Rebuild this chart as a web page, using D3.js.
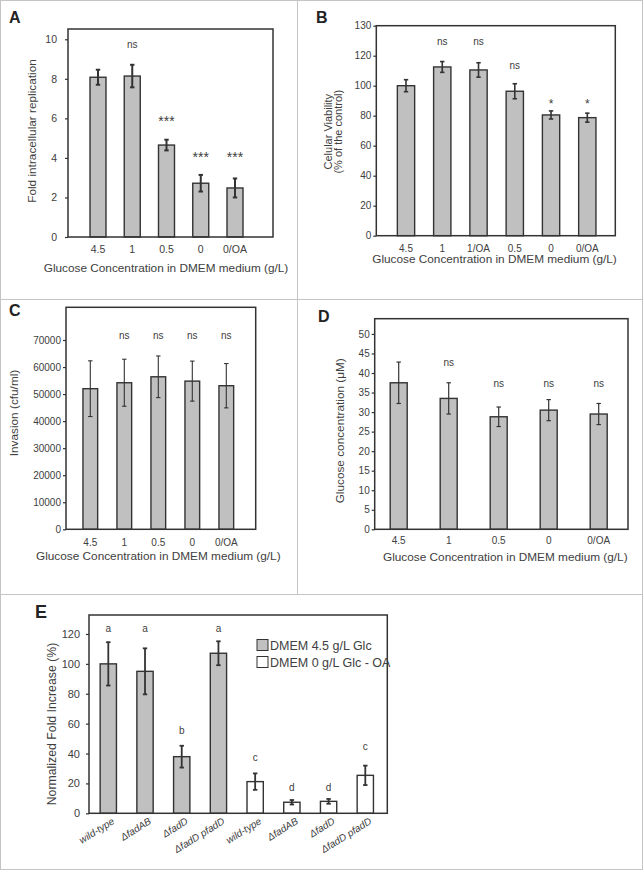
<!DOCTYPE html>
<html><head><meta charset="utf-8">
<script src="https://cdn.jsdelivr.net/npm/d3@7"></script>
<style>
body{margin:0;background:#fff;}
text{font-family:"Liberation Sans",Arial,sans-serif;fill:#404040;}
</style></head>
<body>
<svg id="fig" width="644" height="871"></svg>
<script>
// ---------- DATA ----------
const catsA = ["4.5","1","0.5","0","0/OA"];
const valsA = [8.08, 8.14, 4.65, 2.72, 2.48];
const errA  = [0.38, 0.57, 0.27, 0.42, 0.48];
const annA  = ["", "ns", "***", "***", "***"];
const annYA = [null, 9.58, 5.61, 3.79, 3.79];
const ticksA = [0, 2, 4, 6, 8, 10];

const catsB = ["4.5","1","1/OA","0.5","0","0/OA"];
const valsB = [100, 112.5, 110.5, 96.3, 80.5, 78.7];
const errB  = [4.0, 3.6, 4.8, 5.0, 2.7, 3.0];
const annB  = ["", "ns", "ns", "ns", "*", "*"];
const annYB = [null, 126.9, 126.9, 110.9, 85.4, 85.4];
const ticksB = [0, 20, 40, 60, 80, 100, 120, 140];
const tickLabelsB = ["0","20","40","60","80","100","120","130"];

const catsC = ["4.5","1","0.5","0","0/OA"];
const valsC = [52000, 54200, 56400, 54800, 53100];
const errC  = [10300, 8700, 7700, 7400, 8200];
const annC  = ["", "ns", "ns", "ns", "ns"];
const annYC = [null, 70300, 70300, 70300, 70300];
const ticksC = [0, 10000, 20000, 30000, 40000, 50000, 60000, 70000];

const catsD = ["4.5","1","0.5","0","0/OA"];
const valsD = [37.5, 33.5, 28.8, 30.5, 29.5];
const errD  = [5.3, 4.0, 2.5, 2.7, 2.7];
const annD  = ["", "ns", "ns", "ns", "ns"];
const annYD = [null, 41.8, 36.5, 36.5, 36.5];
const ticksD = [0, 5, 10, 15, 20, 25, 30, 35, 40, 45, 50];

const catsE = ["wild-type","\u0394fadAB","\u0394fadD","\u0394fadD pfadD","wild-type","\u0394fadAB","\u0394fadD","\u0394fadD pfadD"];
const groupE = [0,0,0,0,1,1,1,1];
const valsE = [100, 95, 37.9, 107.1, 21.2, 7.4, 8.0, 25.4];
const errE  = [14.5, 15.4, 7.3, 8.0, 5.5, 1.5, 1.6, 6.5];
const letE  = ["a","a","b","a","c","d","d","c"];
const letYE = [121.6, 121.6, 52.9, 121.6, 35.1, 15.0, 15.0, 42.2];
const ticksE = [0, 20, 40, 60, 80, 100, 120];
const legendE = ["DMEM 4.5 g/L Glc", "DMEM 0 g/L Glc - OA"];

const xTitle = "Glucose Concentration in DMEM medium (g/L)";

// ---------- STYLE ----------
const BAR = "#c0c0c0", DARK = "#333", BORDER = "#c4c4c4";
const svg = d3.select("#fig");

// panel borders
const borders = [[0.5,0.5,297,299],[297.5,0.5,345,299],[0.5,299.5,297,295],[297.5,299.5,345,295],[0.5,594.5,642,275]];
svg.selectAll("rect.border").data(borders).enter().append("rect")
  .attr("x",d=>d[0]).attr("y",d=>d[1]).attr("width",d=>d[2]).attr("height",d=>d[3])
  .attr("fill","none").attr("stroke",BORDER).attr("stroke-width",1);

function panel(o){
  const g = svg.append("g");
  const n = o.cats.length;
  const x = d3.scaleLinear().domain([0, n-1]).range([o.c0, o.c1]);
  const y = d3.scaleLinear().domain([0, o.ymax]).range([o.y0, o.y1]);
  // y axis
  const ax = d3.axisLeft(y).tickValues(o.ticks).tickSize(3).tickPadding(o.tpad||4)
    .tickFormat((d,i)=> o.tickLabels ? o.tickLabels[i] : d3.format("d")(d));
  const ag = g.append("g").attr("transform",`translate(${o.fx0},0)`).call(ax);
  ag.select(".domain").remove();
  ag.selectAll("line").attr("stroke",DARK).attr("stroke-width",1.2);
  ag.selectAll("text").attr("font-size",o.tfs||10).attr("fill","#404040").attr("font-family","Liberation Sans, Arial, sans-serif");
  // bars
  g.selectAll("rect.bar").data(o.vals).enter().append("rect")
    .attr("x",(d,i)=>x(i)-o.bw/2).attr("width",o.bw)
    .attr("y",d=>y(d)).attr("height",d=>y(0)-y(d))
    .attr("fill",(d,i)=> o.fills ? o.fills[i] : BAR)
    .attr("stroke",DARK).attr("stroke-width",1.4);
  // error bars
  const eg = g.selectAll("g.err").data(o.vals).enter().append("g")
    .attr("stroke",DARK).attr("stroke-width",o.ew||1.6);
  eg.append("line").attr("x1",(d,i)=>x(i)).attr("x2",(d,i)=>x(i))
    .attr("y1",(d,i)=>y(d+o.err[i])).attr("y2",(d,i)=>y(d-o.err[i]));
  eg.append("line").attr("x1",(d,i)=>x(i)-2.2).attr("x2",(d,i)=>x(i)+2.2)
    .attr("y1",(d,i)=>y(d+o.err[i])).attr("y2",(d,i)=>y(d+o.err[i]));
  eg.append("line").attr("x1",(d,i)=>x(i)-2.2).attr("x2",(d,i)=>x(i)+2.2)
    .attr("y1",(d,i)=>y(d-o.err[i])).attr("y2",(d,i)=>y(d-o.err[i]));
  // annotations
  o.ann.forEach((a,i)=>{
    if(!a) return;
    const star = a.indexOf("*")>=0;
    g.append("text").attr("x",x(i)).attr("y",y(o.annY[i])).attr("text-anchor","middle")
      .attr("font-size", star ? o.starFs : (o.annFs||10)).text(a);
  });
  // frame
  g.append("rect").attr("x",o.fx0).attr("y",o.y1).attr("width",o.fx1-o.fx0).attr("height",o.y0-o.y1)
    .attr("fill","none").attr("stroke",DARK).attr("stroke-width",1.5);
  // x tick labels
  if(o.xlab !== false){
    g.selectAll("text.xl").data(o.cats).enter().append("text")
      .attr("x",(d,i)=>x(i)).attr("y",o.xly).attr("dy","0.35em").attr("text-anchor","middle")
      .attr("font-size",o.tfs||10).text(d=>d);
    g.append("text").attr("x",o.xtx).attr("y",o.xty).attr("dy","0.35em").attr("text-anchor","middle")
      .attr("font-size",11.8).text(xTitle);
  }
  // y title
  o.ytitle.forEach((t,k)=>{
    g.append("text").attr("transform",`translate(${o.ytx[k]},${o.yty}) rotate(-90)`)
      .attr("text-anchor","middle").attr("dy","0.35em").attr("font-size",o.ytfs||11.8).text(t);
  });
  // panel letter
  g.append("text").attr("x",o.lx).attr("y",o.ly).attr("font-size",o.lfs||16).attr("font-weight","bold")
    .style("fill","#222").text(o.letter);
  return {g,x,y};
}

panel({cats:catsA, vals:valsA, err:errA, ann:annA, annY:annYA, ticks:ticksA, ymax:10.52,
  c0:98, c1:235, fx0:68, fx1:273, y0:237, y1:29, bw:16, ew:2, tpad:8, starFs:14, tfs:10.5,
  xly:249.3, xtx:166, xty:267.7, ytitle:["Fold intracellular replication"], ytx:[32], yty:131,
  letter:"A", lx:9, ly:23});

panel({cats:catsB, vals:valsB, err:errB, ann:annB, annY:annYB, ticks:ticksB, tickLabels:tickLabelsB, ymax:140,
  c0:406, c1:587.3, fx0:376.3, fx1:615.3, y0:235.7, y1:25.7, bw:17.3, ew:1.6, tpad:2, starFs:12,
  xly:248.3, xtx:494.5, xty:259, ytitle:["Celular Viability","(% of the control)"], ytx:[328,338], yty:131.7, ytfs:11,
  letter:"B", lx:316, ly:23});

panel({cats:catsC, vals:valsC, err:errC, ann:annC, annY:annYC, ticks:ticksC, ymax:82100,
  c0:90.3, c1:226.3, fx0:66, fx1:255.7, y0:529.3, y1:307.3, bw:14.7, ew:1.1, tpad:2, starFs:12,
  xly:542.3, xtx:158.3, xty:555.7, ytitle:["Invasion (cfu/ml)"], ytx:[14], yty:413,
  letter:"C", lx:9, ly:316});

panel({cats:catsD, vals:valsD, err:errD, ann:annD, annY:annYD, ticks:ticksD, ymax:53.9,
  c0:398.7, c1:598.7, fx0:374.7, fx1:628, y0:529.3, y1:318.7, bw:17, ew:1.2, tpad:2, starFs:12,
  xly:540.7, xtx:505.3, xty:557, ytitle:["Glucose concentration (\u03bcM)"], ytx:[340], yty:430.8,
  letter:"D", lx:318, ly:322});

const pE = panel({cats:catsE, vals:valsE, err:errE, ann:letE, annY:letYE, ticks:ticksE, ymax:132.7,
  fills: groupE.map(gi => gi===0 ? BAR : "#fff"),
  c0:108.3, c1:365.3, fx0:89, fx1:387.3, y0:813.3, y1:615, bw:16.3, ew:1.8, tpad:6, tfs:11, starFs:12,
  xlab:false, ytitle:["Normalized Fold Increase (%)"], ytx:[51.7], yty:724, ytfs:12.3,
  letter:"E", lx:35, ly:618, lfs:18});

// E rotated labels
pE.g.selectAll("text.xe").data(catsE).enter().append("text")
  .attr("transform",(d,i)=>`translate(${pE.x(i)+7},${823}) rotate(-32)`)
  .attr("text-anchor","end").attr("font-size",10).attr("font-style","italic").text(d=>d);

// E legend
const lg = pE.g.selectAll("g.lg").data(legendE).enter().append("g")
  .attr("transform",(d,i)=>`translate(257,${645 + i*17})`);
lg.append("rect").attr("x",0).attr("y",-5.5).attr("width",11).attr("height",11)
  .attr("fill",(d,i)=> i===0 ? BAR : "#fff").attr("stroke",DARK).attr("stroke-width",1);
lg.append("text").attr("x",13).attr("y",0).attr("dy","0.36em").attr("font-size",12.5).text(d=>d);
</script>
</body></html>
